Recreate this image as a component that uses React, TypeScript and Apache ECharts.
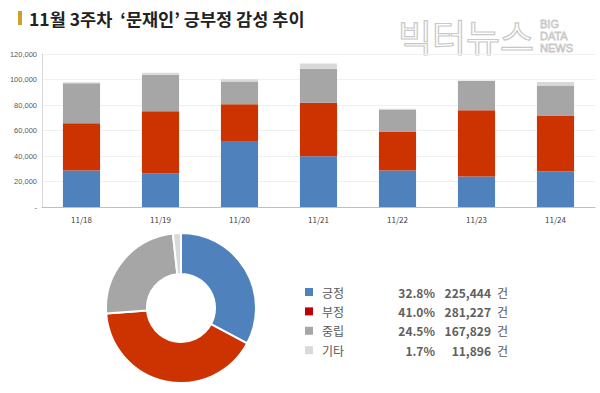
import React, { useEffect, useRef } from "react";
import * as echarts from "echarts";

const categories = ["11/18", "11/19", "11/20", "11/21", "11/22", "11/23", "11/24"];
const positive = [28700, 26400, 51200, 39900, 28700, 24000, 27900];
const negative = [37000, 48700, 29400, 41800, 30500, 51900, 43900];
const neutral = [31300, 28700, 17800, 26800, 17300, 23000, 23400];
const other = [800, 1400, 1800, 4000, 500, 400, 2900];

const pieNames = ["긍정", "부정", "중립", "기타"];
const pieTotals = [225444, 281227, 167829, 11896];
const piePercents = ["32.8%", "41.0%", "24.5%", "1.7%"];

const barColors = ["#4f81bd", "#cc3300", "#a6a6a6", "#d9d9d9"];
const legendColors = ["#4f81bd", "#c00000", "#a6a6a6", "#d9d9d9"];

const FONT = "'Noto Sans CJK KR', 'Noto Sans', sans-serif";

export default function App() {
  const ref = useRef<HTMLDivElement>(null);
  useEffect(() => {
    if (!ref.current) return;
    const chart = echarts.init(ref.current, undefined, { renderer: "svg" });
    const seriesData = [positive, negative, neutral, other];
    const legendEls: any[] = [];
    pieNames.forEach((n, i) => {
      const cy = 292 + i * 19.4;
      legendEls.push({
        type: "rect",
        shape: { x: 305, y: cy - 4, width: 8, height: 8 },
        style: { fill: legendColors[i] },
      });
      legendEls.push({
        type: "text",
        x: 322,
        y: cy,
        style: { text: n, font: `12px ${FONT}`, fill: "#595959", verticalAlign: "middle", align: "left" },
      });
      legendEls.push({
        type: "text",
        x: 435,
        y: cy,
        style: { text: piePercents[i], font: `bold 12px ${FONT}`, fill: "#606060", verticalAlign: "middle", align: "right" },
      });
      legendEls.push({
        type: "text",
        x: 491,
        y: cy,
        style: {
          text: pieTotals[i].toLocaleString("en-US"),
          font: `bold 12px ${FONT}`,
          fill: "#606060",
          verticalAlign: "middle",
          align: "right",
        },
      });
      legendEls.push({
        type: "text",
        x: 497,
        y: cy,
        style: { text: "건", font: `12px ${FONT}`, fill: "#595959", verticalAlign: "middle", align: "left" },
      });
    });

    chart.setOption({
      animation: false,
      backgroundColor: "#ffffff",
      grid: { left: 42, right: 5, top: 54, bottom: 186 },
      xAxis: {
        type: "category",
        data: categories,
        axisLine: { lineStyle: { color: "#bfbfbf" } },
        axisTick: { show: false },
        axisLabel: { fontSize: 8, color: "#404040", margin: 8, fontFamily: FONT },
      },
      yAxis: {
        type: "value",
        min: 0,
        max: 120000,
        interval: 20000,
        axisLine: { show: true, lineStyle: { color: "#d9d9d9" } },
        axisTick: { show: false },
        splitLine: { lineStyle: { color: "#f0f0f0" } },
        axisLabel: {
          fontSize: 7.5,
          color: "#595959",
          margin: 5,
          fontFamily: "'Liberation Sans', Arial, sans-serif",
          formatter: (v: number) => (v === 0 ? "-" : v.toLocaleString("en-US")),
        },
      },
      series: [
        ...seriesData.map((d, i) => ({
          type: "bar",
          name: pieNames[i],
          stack: "total",
          data: d,
          barWidth: "47%",
          itemStyle: { color: barColors[i] },
        })),
        {
          type: "pie",
          center: [181, 308],
          radius: [34, 75],
          startAngle: 90,
          clockwise: true,
          label: { show: false },
          labelLine: { show: false },
          itemStyle: { borderColor: "#ffffff", borderWidth: 2 },
          data: pieNames.map((n, i) => ({ name: n, value: pieTotals[i], itemStyle: { color: barColors[i] } })),
        },
      ],
      graphic: [
        { type: "rect", shape: { x: 18, y: 11, width: 4, height: 14 }, style: { fill: "#c9a227" } },
        {
          type: "text",
          x: 29,
          y: 18,
          style: {
            text: "11월 3주차  ‘문재인’ 긍부정 감성 추이",
            font: `bold 17.5px ${FONT}`,
            fill: "#222222",
            verticalAlign: "middle",
          },
        },
        {
          type: "text",
          x: 398,
          y: 36,
          z: -1,
          style: {
            text: "빅터뉴스",
            font: `37px ${FONT}`,
            fill: "rgba(255,255,255,0)",
            stroke: "#c8c8c8",
            lineWidth: 1.2,
            verticalAlign: "middle",
          },
        },
        ...["BIG", "DATA", "NEWS"].map((t, i) => ({
          type: "text",
          x: 540,
          y: 24 + i * 12,
          z: -1,
          style: {
            text: t,
            font: `11px 'Liberation Sans', sans-serif`,
            fill: "rgba(255,255,255,0)",
            stroke: "#c8c8c8",
            lineWidth: 0.8,
            verticalAlign: "middle",
          },
        })),
        ...legendEls,
      ],
    });
    return () => chart.dispose();
  }, []);
  return (
    <div
      ref={ref}
      style={{ position: "absolute", left: 0, top: 0, width: 600, height: 393, background: "#fff" }}
    />
  );
}
